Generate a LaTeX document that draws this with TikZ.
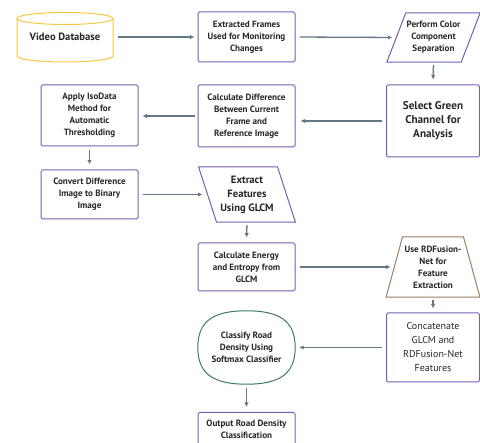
\documentclass[tikz,border=0pt]{standalone}
\usepackage{fontspec}
\setmainfont{PT Sans}
\usetikzlibrary{arrows.meta,calc}
\definecolor{purp}{HTML}{7A5CB0}
\definecolor{yel}{HTML}{F5C744}
\definecolor{grn}{HTML}{3F7868}
\definecolor{tan}{HTML}{9A7E62}
\definecolor{arr}{HTML}{637884}
\definecolor{txt}{HTML}{262626}
\tikzset{
  base/.style={align=center, text=txt, inner sep=0pt, font=\bfseries\fontsize{9.1}{12}\selectfont},
  pbox/.style={base, draw=purp, line width=1pt, rounded corners=1.5pt},
  ghost/.style={base},
  big/.style={font=\bfseries\fontsize{10.6}{14}\selectfont},
  conn/.style={draw=arr, line width=1.3pt, -{Latex[length=4.5pt,width=4.5pt]}},
}
\begin{document}
\begin{tikzpicture}[x=1pt,y=-1pt]
\useasboundingbox (0,0) rectangle (480,443);
% Video Database cylinder
\node[ghost, big, minimum width=96pt, minimum height=50pt] (db) at (65,37) {Video Database};
\draw[yel, line width=1pt] (17,18.5) -- (17,56) arc[start angle=180, end angle=360, x radius=48pt, y radius=6pt] -- (113,18.5);
\draw[yel, line width=1pt] (65,18.5) ellipse [x radius=48pt, y radius=6pt];
% row 1
\node[pbox, minimum width=97pt, minimum height=50pt] (ef) at (246.5,37) {Extracted Frames\\Used for Monitoring\\Changes};
\node[ghost, minimum width=74pt, minimum height=49pt] (pc) at (433.5,37.5) {Perform Color\\Component\\Separation};
\draw[purp, line width=1pt, line join=round] ([xshift=9.5pt]pc.north west) -- ([xshift=9.5pt]pc.north east) -- ([xshift=-9.5pt]pc.south east) -- ([xshift=-9.5pt]pc.south west) -- cycle;
% row 2
\node[pbox, font=\bfseries\fontsize{11.2}{14}\selectfont, minimum width=93pt, minimum height=72pt] (sg) at (433,121) {Select Green\\Channel for\\Analysis};
\node[pbox, minimum width=97pt, minimum height=62pt] (cd) at (246.5,116) {Calculate Difference\\Between Current\\Frame and\\Reference Image};
\node[pbox, minimum width=97pt, minimum height=61pt] (ai) at (89.5,115.5) {Apply IsoData\\Method for\\Automatic\\Thresholding};
% row 3
\node[pbox, minimum width=97pt, minimum height=49pt] (cv) at (89.5,194.5) {Convert Difference\\Image to Binary\\Image};
\node[ghost, big, minimum width=78.5pt, minimum height=55pt] (ex) at (247,194.5) {Extract\\Features\\Using GLCM};
\draw[purp, line width=1pt, line join=round] ([xshift=-9pt]ex.north west) -- ([xshift=-9pt]ex.north east) -- ([xshift=9pt]ex.south east) -- ([xshift=9pt]ex.south west) -- cycle;
% row 4
\node[pbox, minimum width=97pt, minimum height=48pt] (ce) at (246.5,267) {Calculate Energy\\and Entropy from\\GLCM};
\node[ghost, minimum width=76.5pt, minimum height=60pt] (rd) at (433,267) {Use RDFusion-\\Net for\\Feature\\Extraction};
\draw[tan, line width=1pt, line join=round] ([xshift=8pt]rd.north west) -- ([xshift=-8pt]rd.north east) -- ([xshift=8.5pt]rd.south east) -- ([xshift=-8.5pt]rd.south west) -- cycle;
% row 5
\node[pbox, font=\fontsize{10}{14}\selectfont, minimum width=93pt, minimum height=69pt] (cc) at (433,347.5) {Concatenate\\GLCM and\\RDFusion-Net\\Features};
\node[ghost, minimum width=97pt, minimum height=73pt] (cl) at (246.5,347.5) {Classify Road\\Density Using\\Softmax Classifier};
\draw[grn, line width=1pt]
  (cl.east) .. controls ($(cl.east)!0.72!(cl.north east)$) and ($(cl.north)!0.68!(cl.north east)$) .. (cl.north)
  .. controls ($(cl.north)!0.68!(cl.north west)$) and ($(cl.west)!0.72!(cl.north west)$) .. (cl.west)
  .. controls ($(cl.west)!0.72!(cl.south west)$) and ($(cl.south)!0.68!(cl.south west)$) .. (cl.south)
  .. controls ($(cl.south)!0.68!(cl.south east)$) and ($(cl.east)!0.72!(cl.south east)$) .. (cl.east) -- cycle;
\node[pbox, minimum width=97pt, minimum height=46pt, anchor=north] (out) at (246.5,412) {Output Road Density\\Classification\\\mbox{}};
% connectors
\draw[conn, shorten <=5pt, shorten >=3pt] (db.east) -- (ef.west);
\draw[conn, shorten <=4pt, shorten >=4pt] (ef.east) -- (pc.west);
\draw[conn, shorten <=3pt, shorten >=5pt] (pc.south) -- (sg.north);
\draw[conn, shorten <=4pt, shorten >=5pt] (sg.west) -- (sg.west -| cd.east);
\draw[conn, shorten <=3pt, shorten >=4pt] (cd.west) -- (cd.west -| ai.east);
\draw[conn, shorten <=4pt, shorten >=5pt] (ai.south) -- (cv.north);
\draw[conn, shorten <=4pt, shorten >=5pt] (cv.east) -- (ex.west);
\draw[conn, shorten <=3pt, shorten >=5pt] (ex.south) -- (ce.north);
\draw[conn, shorten <=4pt, shorten >=4pt] (ce.east) -- (rd.west);
\draw[conn, shorten <=3pt, shorten >=4pt] (rd.south) -- (cc.north);
\draw[conn, shorten <=4pt, shorten >=4pt] (cc.west) -- (cl.east);
\draw[conn, shorten <=4pt, shorten >=5pt] (cl.south) -- (out.north);
\end{tikzpicture}
\end{document}
